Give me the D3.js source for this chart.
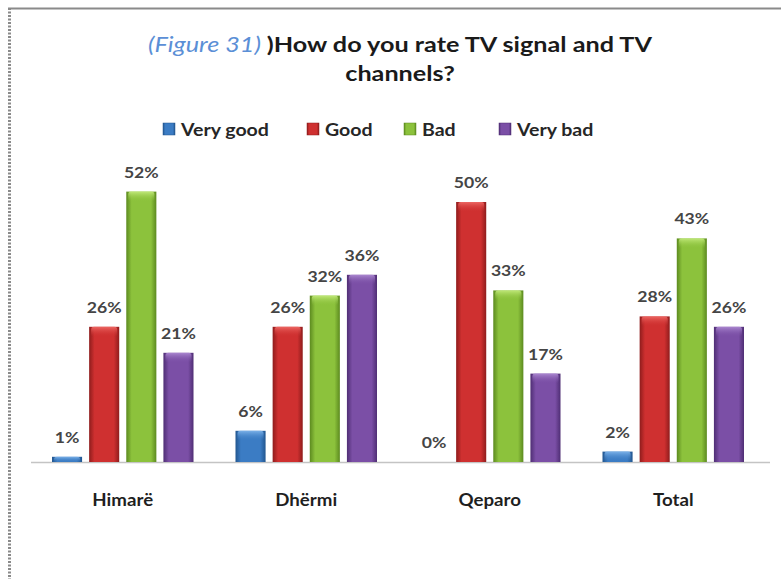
<!DOCTYPE html>
<html>
<head>
<meta charset="utf-8">
<script src="https://cdn.jsdelivr.net/npm/d3@7"></script>
<style>
  html, body { margin: 0; padding: 0; background: #fff; }
  svg { display: block; }
</style>
</head>
<body>
<svg id="chart" width="781" height="579"></svg>
<script>
// Survey answers by locality (percent of respondents)
const categories = ["Himarë", "Dhërmi", "Qeparo", "Total"];
const seriesNames = ["Very good", "Good", "Bad", "Very bad"];
const veryGood = [1, 6, 0, 2];
const good = [26, 26, 50, 28];
const bad = [52, 32, 33, 43];
const veryBad = [21, 36, 17, 26];
const seriesValues = [veryGood, good, bad, veryBad];
const seriesColors = ["#3b7cc4", "#cf3030", "#8cc23c", "#7b4fa6"];
const seriesDark = ["#22568f", "#8f1c1c", "#5c8a1f", "#4f2e74"];
const seriesLight = ["#7fb4ea", "#ee6a66", "#c3ea7c", "#ad8ad2"];

const svg = d3.select("#chart");
const fontFamily = "Lato, 'Open Sans', sans-serif";

// Text helper: places a label at (x, y) with a slight horizontal widening
function label(parent, x, y, sx) {
  return parent.append("g").attr("transform", `translate(${x},${y}) scale(${sx},1)`)
    .append("text").attr("x", 0).attr("y", 0).attr("font-family", fontFamily);
}

// Chart frame: solid top edge and dotted left edge
svg.append("line").attr("x1", 8).attr("x2", 781).attr("y1", 8.5).attr("y2", 8.5)
  .attr("stroke", "#8a8a8a").attr("stroke-width", 2);
svg.append("line").attr("x1", 9.5).attr("x2", 9.5).attr("y1", 8).attr("y2", 579)
  .attr("stroke", "#8a8a8a").attr("stroke-width", 3).attr("stroke-dasharray", "2,1.5");

// Title
const t1 = label(svg, 400, 52, 1.2).attr("text-anchor", "middle")
  .attr("font-weight", 700).attr("font-size", 21).attr("fill", "#1a1a1a");
t1.append("tspan").attr("fill", "#5b8fd6").attr("font-style", "italic").attr("font-weight", 400)
  .text("(Figure 31) ");
t1.append("tspan").text(")How do you rate TV signal and TV");
label(svg, 400, 81, 1.2).attr("text-anchor", "middle")
  .attr("font-weight", 700).attr("font-size", 21).attr("fill", "#1a1a1a")
  .text("channels?");

// Scales
const baseY = 462;
const x0 = d3.scaleBand().domain(categories).range([31, 765]).padding(0);
const x1 = d3.scaleBand().domain(seriesNames)
  .range([21, x0.bandwidth() - 21]).paddingInner(0.19).paddingOuter(0);
const y = d3.scaleLinear().domain([0, 60]).range([baseY, baseY - 312]);

// Gradients giving the bars their rounded, glossy look
const defs = svg.append("defs");
seriesNames.forEach((s, i) => {
  const g = defs.append("linearGradient").attr("id", "grad" + i)
    .attr("x1", "0%").attr("x2", "100%").attr("y1", "0%").attr("y2", "0%");
  g.append("stop").attr("offset", "0%").attr("stop-color", seriesDark[i]);
  g.append("stop").attr("offset", "18%").attr("stop-color", seriesColors[i]);
  g.append("stop").attr("offset", "50%").attr("stop-color", seriesColors[i]);
  g.append("stop").attr("offset", "82%").attr("stop-color", seriesColors[i]);
  g.append("stop").attr("offset", "100%").attr("stop-color", seriesDark[i]);
  const h = defs.append("linearGradient").attr("id", "hl" + i)
    .attr("x1", "0%").attr("x2", "0%").attr("y1", "0%").attr("y2", "100%");
  h.append("stop").attr("offset", "0%").attr("stop-color", seriesLight[i]).attr("stop-opacity", 0.95);
  h.append("stop").attr("offset", "100%").attr("stop-color", seriesColors[i]).attr("stop-opacity", 0);
});

// Legend
const legendX = [163, 307, 404, 499];
seriesNames.forEach((s, i) => {
  const g = svg.append("g").attr("transform", `translate(${legendX[i]},123)`);
  g.append("rect").attr("width", 12).attr("height", 12).attr("fill", "url(#grad" + i + ")")
    .attr("stroke", seriesDark[i]).attr("stroke-width", 0.5);
  label(g, 18, 12.5, 1.15).attr("font-weight", 700).attr("font-size", 17)
    .attr("fill", "#262626").text(s);
});

// Baseline
svg.append("line").attr("x1", 31).attr("x2", 770).attr("y1", baseY + 0.5).attr("y2", baseY + 0.5)
  .attr("stroke", "#c4c4c4").attr("stroke-width", 1.5);

// Bars and value labels
const groups = svg.append("g").selectAll("g").data(categories).join("g")
  .attr("transform", d => `translate(${x0(d)},0)`);

groups.each(function(cat, ci) {
  const g = d3.select(this);
  seriesNames.forEach((s, si) => {
    const v = seriesValues[si][ci];
    const bx = x1(s), bw = x1.bandwidth();
    const top = y(v), h = baseY - top;
    if (h > 0) {
      g.append("rect").attr("x", bx).attr("y", top).attr("width", bw).attr("height", h)
        .attr("fill", "url(#grad" + si + ")");
      g.append("rect").attr("x", bx + 2).attr("y", top).attr("width", bw - 4)
        .attr("height", Math.min(10, h)).attr("rx", 3)
        .attr("fill", "url(#hl" + si + ")");
    }
    label(g, bx + bw / 2, top - 14, 1.1).attr("text-anchor", "middle")
      .attr("font-weight", 700).attr("font-size", 16).attr("fill", "#454545")
      .text(v + "%");
  });
});

// Category axis labels
categories.forEach(c => {
  label(svg, x0(c) + x0.bandwidth() / 2, 506, 1.1).attr("text-anchor", "middle")
    .attr("font-weight", 700).attr("font-size", 17).attr("fill", "#1f1f1f")
    .text(c);
});
</script>
</body>
</html>
